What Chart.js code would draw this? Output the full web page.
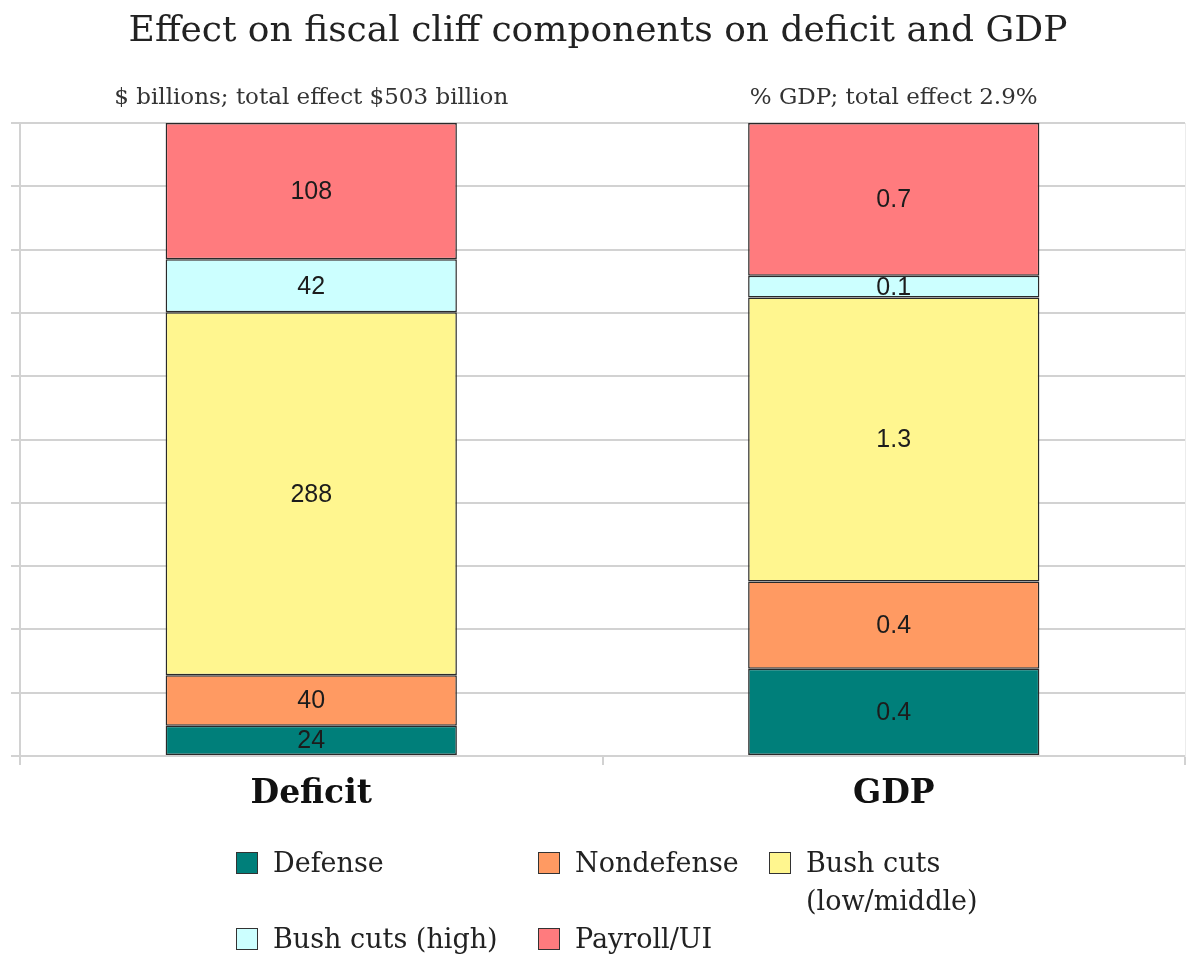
<!DOCTYPE html>
<html>
<head>
<meta charset="utf-8">
<script src="https://cdn.jsdelivr.net/npm/chart.js@4/dist/chart.umd.min.js"></script>
<style>
  html, body { margin: 0; padding: 0; background: #ffffff; }
  #wrap { position: relative; width: 1192px; height: 960px; overflow: hidden; }
  #c { position: absolute; left: 0; top: 0; }
  #legend {
    position: absolute; left: 236px; top: 844px;
    display: grid; grid-template-columns: 302px 231px 230px;
    font-family: "DejaVu Serif", serif; font-size: 27px; line-height: 38px; color: #222;
  }
  .item { display: flex; align-items: flex-start; white-space: nowrap; }
  .item.wrap { white-space: normal; }
  .item.wrap .lbl { max-width: 200px; }
  .box { width: 20px; height: 20px; border: 1px solid #333; margin-top: 8px; margin-right: 15px; flex: none; }
</style>
</head>
<body>
<div id="wrap">
  <canvas id="c" width="1192" height="960"></canvas>
  <div id="legend"></div>
</div>
<script>
// ---- data ----
const categories = ['Deficit', 'GDP'];
const seriesNames = ['Defense', 'Nondefense', 'Bush cuts (low/middle)', 'Bush cuts (high)', 'Payroll/UI'];
const deficitValues = [24, 40, 288, 42, 108];   // $ billions
const gdpValues = [0.4, 0.4, 1.3, 0.1, 0.7];     // % GDP
const subtitles = ['$ billions; total effect $503 billion', '% GDP; total effect 2.9%'];
const titleText = 'Effect on fiscal cliff components on deficit and GDP';
const yTicks = [0, 10, 20, 30, 40, 50, 60, 70, 80, 90, 100];
const seriesColors = ['#007F7A', '#FF9A62', '#FFF68F', '#CCFFFF', '#FF7B7E'];

// ---- build ----
const sum = a => a.reduce((s, v) => s + v, 0);
const deficitTotal = sum(deficitValues);
const gdpTotal = sum(gdpValues);

const datasets = seriesNames.map((name, i) => ({
  label: name,
  data: [deficitValues[i] / deficitTotal * 100, gdpValues[i] / gdpTotal * 100],
  rawLabels: [String(deficitValues[i]), gdpValues[i].toFixed(1)],
  backgroundColor: seriesColors[i],
  borderColor: '#2a2a2a',
  borderWidth: 1.5,
  borderSkipped: false,
  barPercentage: 0.5,
  categoryPercentage: 1.0
}));

const GRID = '#d2d2d2';

const segmentLabels = {
  id: 'segmentLabels',
  afterDatasetsDraw(chart) {
    const ctx = chart.ctx;
    ctx.save();
    ctx.font = '25px "Liberation Sans", Arial, sans-serif';
    ctx.fillStyle = '#1c1c1c';
    ctx.textAlign = 'center';
    ctx.textBaseline = 'middle';
    chart.data.datasets.forEach((ds, di) => {
      const meta = chart.getDatasetMeta(di);
      meta.data.forEach((el, j) => {
        const cy = (el.y + el.base) / 2;
        ctx.fillText(ds.rawLabels[j], el.x, cy + 1);
      });
    });
    ctx.restore();
  }
};

const subtitlePlugin = {
  id: 'subtitlePlugin',
  afterDraw(chart) {
    const ctx = chart.ctx;
    const xs = chart.scales.x;
    ctx.save();
    ctx.font = '23px "DejaVu Serif", serif';
    ctx.fillStyle = '#333';
    ctx.textAlign = 'center';
    ctx.textBaseline = 'middle';
    subtitles.forEach((t, i) => {
      ctx.fillText(t, xs.getPixelForValue(i), 98);
    });
    ctx.restore();
  }
};

Chart.defaults.font.family = '"DejaVu Serif", serif';

const chart = new Chart(document.getElementById('c'), {
  type: 'bar',
  data: { labels: categories, datasets },
  options: {
    responsive: false,
    animation: false,
    layout: { padding: { left: 11, right: 7, top: 0, bottom: 0 } },
    plugins: {
      legend: { display: false },
      tooltip: { enabled: false },
      title: {
        display: true,
        text: titleText,
        color: '#222',
        font: { family: '"DejaVu Serif", serif', size: 36, weight: 'normal' },
        padding: { top: 10, bottom: 69.8 }
      }
    },
    scales: {
      x: {
        stacked: true,
        offset: true,
        afterFit(scale) { scale.height = 204; },
        grid: { offset: true, drawOnChartArea: false, drawTicks: true, tickLength: 9, color: GRID, lineWidth: 2 },
        border: { color: GRID, width: 2 },
        ticks: { color: '#111', padding: 10, font: { family: '"DejaVu Serif", serif', size: 33, weight: 'bold' } }
      },
      y: {
        stacked: true,
        min: 0,
        max: 100,
        afterBuildTicks(scale) { scale.ticks = yTicks.map(v => ({ value: v })); },
        afterFit(scale) { scale.width = 9; },
        ticks: { display: false },
        grid: { color: GRID, lineWidth: 2, tickLength: 9, drawTicks: true },
        border: { color: GRID, width: 2 }
      },
      yRight: {
        position: 'right',
        min: 0, max: 100,
        afterFit(scale) { scale.width = 0; },
        ticks: { display: false },
        grid: { drawOnChartArea: false, drawTicks: false },
        border: { color: '#ececec', width: 1 }
      }
    }
  },
  plugins: [segmentLabels, subtitlePlugin]
});

// ---- HTML legend built from datasets ----
const legendEl = document.getElementById('legend');
chart.data.datasets.forEach((ds, i) => {
  const item = document.createElement('div');
  item.className = 'item' + (ds.label.length > 18 ? ' wrap' : '');
  const box = document.createElement('span');
  box.className = 'box';
  box.style.background = ds.backgroundColor;
  const lbl = document.createElement('span');
  lbl.className = 'lbl';
  lbl.textContent = ds.label;
  item.appendChild(box);
  item.appendChild(lbl);
  legendEl.appendChild(item);
});
</script>
</body>
</html>
